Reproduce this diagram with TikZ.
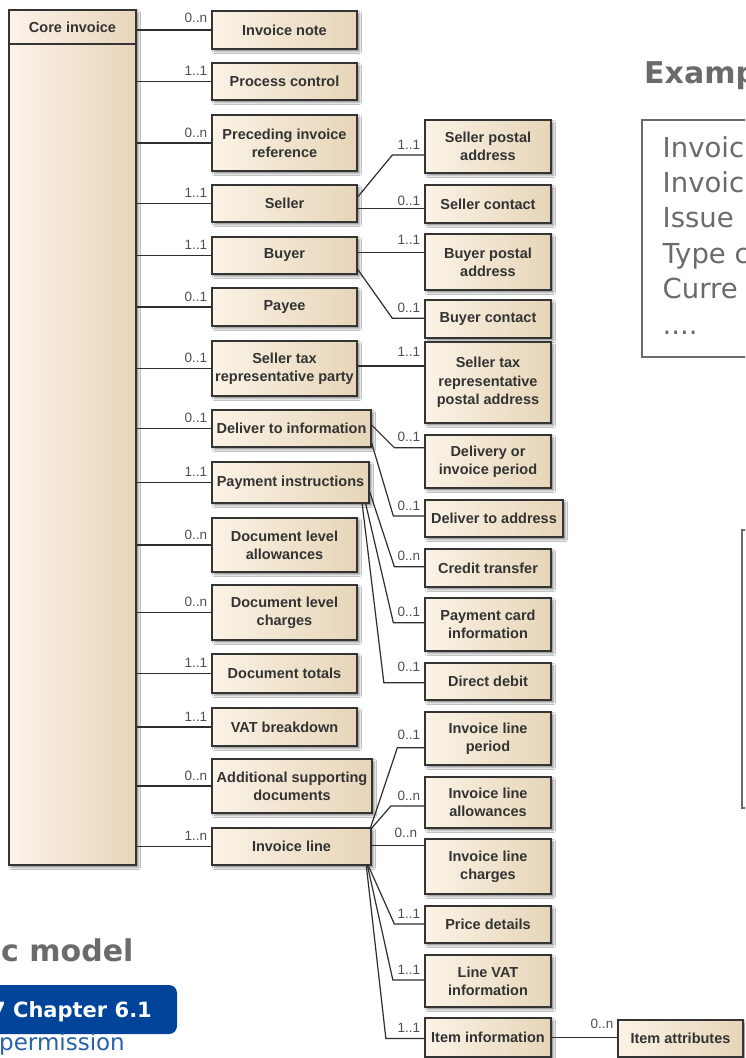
\documentclass[tikz,border=0pt]{standalone}
\usepackage{fontspec}
\setmainfont{Liberation Sans}
\newfontfamily\slidefont{DejaVu Sans}
\usetikzlibrary{calc,shadows.blur}

\definecolor{boxlight}{HTML}{FBF3E6}
\definecolor{boxdark}{HTML}{E6D5B8}
\definecolor{corelight}{HTML}{FDF2EA}
\definecolor{coredark}{HTML}{E8D6B9}
\definecolor{edge}{HTML}{343434}
\definecolor{wire}{HTML}{2E2E2E}
\definecolor{labelgray}{HTML}{505050}
\definecolor{boxtext}{HTML}{333333}
\definecolor{slidegray}{HTML}{6B6B6B}
\definecolor{chapterblue}{HTML}{00449A}
\definecolor{linkblue}{HTML}{2662AA}

\tikzset{
  cls/.style={draw=edge, line width=1.3pt, left color=boxlight, right color=boxdark,
    inner sep=0pt, align=center, text=boxtext,
    font=\bfseries\fontsize{14.5}{18.3}\selectfont,
    blur shadow={shadow xshift=2.5pt, shadow yshift=-2.5pt, shadow blur radius=2pt, shadow opacity=45}},
  conn/.style={draw=wire, line width=1.2pt},
  mult/.style={anchor=base east, xshift=-3.5pt, yshift=6pt, inner sep=0pt,
    font=\fontsize{13.5}{14}\selectfont, text=labelgray},
  slidetext/.style={anchor=base west, inner sep=0pt, text=slidegray},
}

% class box given by its corners: name, x1, y1, x2, y2, text
\newcommand{\cbox}[6]{%
  \node[cls, minimum width={#4pt-#2pt}, minimum height={#5pt-#3pt}] (#1)
    at ({(#2+#4)/2},{(#3+#5)/2}) {#6};}

\begin{document}
\begin{tikzpicture}[x=1pt,y=-1pt]
\useasboundingbox (0,0) rectangle (745,1058);
\fill[white] (0,0) rectangle (745,1058);
\clip (0,0) rectangle (745,1058);

% ---- root class ----
\node[cls, left color=corelight, right color=coredark, minimum width=127pt, minimum height=855pt]
  (core) at (72.5,437.5) {};
\draw[edge, line width=1.3pt] (core.west |- 0,44) -- (core.east |- 0,44);
\node[inner sep=0pt, text=boxtext, font=\bfseries\fontsize{14.5}{18.3}\selectfont]
  (coretitle) at (72.5,27.5) {Core invoice};

% ---- first level ----
\cbox{note}{212}{11}{357}{49}{Invoice note}
\cbox{proc}{212}{63}{357}{100}{Process control}
\cbox{prec}{212}{115}{357}{171}{Preceding invoice\\reference}
\cbox{seller}{212}{185}{357}{222}{Seller}
\cbox{buyer}{212}{237}{357}{274}{Buyer}
\cbox{payee}{212}{288}{357}{326}{Payee}
\cbox{taxrep}{212}{341}{357}{396}{Seller tax\\representative party}
\cbox{delinfo}{212}{410}{371}{447}{Deliver to information}
\cbox{payinst}{212}{462}{369}{503}{Payment instructions}
\cbox{allow}{212}{518}{357}{572}{Document level\\allowances}
\cbox{charge}{212}{585}{357}{640}{Document level\\charges}
\cbox{totals}{212}{654}{357}{693}{Document totals}
\cbox{vat}{212}{708}{357}{746}{VAT breakdown}
\cbox{addsup}{212}{759}{372}{813}{Additional supporting\\documents}
\cbox{line}{212}{828}{371}{865}{Invoice line}

% ---- second level ----
\cbox{spa}{425}{120}{551}{173}{Seller postal\\address}
\cbox{sc}{425}{185}{551}{223}{Seller contact}
\cbox{bpa}{425}{234}{551}{290}{Buyer postal\\address}
\cbox{bc}{425}{300}{551}{338}{Buyer contact}
\cbox{trpa}{425}{342}{551}{423}{Seller tax\\representative\\postal address}
\cbox{dip}{425}{435}{551}{488}{Delivery or\\invoice period}
\cbox{dta}{425}{500}{563}{537}{Deliver to address}
\cbox{ct}{425}{549}{551}{587}{Credit transfer}
\cbox{pci}{425}{598}{551}{651}{Payment card\\information}
\cbox{dd}{425}{663}{551}{700}{Direct debit}
\cbox{ilp}{425}{712}{551}{765}{Invoice line\\period}
\cbox{ila}{425}{777}{551}{828}{Invoice line\\allowances}
\cbox{ilc}{425}{839}{551}{894}{Invoice line\\charges}
\cbox{pd}{425}{906}{551}{943}{Price details}
\cbox{lvat}{425}{955}{551}{1007}{Line VAT\\information}
\cbox{item}{425}{1018}{551}{1057}{Item information}
\cbox{attr}{618}{1020}{743}{1057}{Item attributes}

% ---- associations from the root ----
\draw[conn] (core.east |- note)    -- (note.west)    node[mult, yshift=2pt]{0..n};
\draw[conn] (core.east |- proc)    -- (proc.west)    node[mult]{1..1};
\draw[conn] (core.east |- prec)    -- (prec.west)    node[mult]{0..n};
\draw[conn] (core.east |- seller)  -- (seller.west)  node[mult]{1..1};
\draw[conn] (core.east |- buyer)   -- (buyer.west)   node[mult]{1..1};
\draw[conn] (core.east |- payee)   -- (payee.west)   node[mult]{0..1};
\draw[conn] (core.east |- taxrep)  -- (taxrep.west)  node[mult]{0..1};
\draw[conn] (core.east |- delinfo) -- (delinfo.west) node[mult]{0..1};
\draw[conn] (core.east |- payinst) -- (payinst.west) node[mult]{1..1};
\draw[conn] (core.east |- allow)   -- (allow.west)   node[mult]{0..n};
\draw[conn] (core.east |- charge)  -- (charge.west)  node[mult]{0..n};
\draw[conn] (core.east |- totals)  -- (totals.west)  node[mult]{1..1};
\draw[conn] (core.east |- vat)     -- (vat.west)     node[mult]{1..1};
\draw[conn] (core.east |- addsup)  -- (addsup.west)  node[mult]{0..n};
\draw[conn] (core.east |- line)    -- (line.west)    node[mult]{1..n};

% ---- Seller / Buyer ----
\draw[conn] ($(seller.east)+(0,-6.5)$) -- ($(spa.west)+(-32,8.5)$) -- ($(spa.west)+(0,8.5)$) node[mult]{1..1};
\draw[conn] ($(seller.east)+(0,4.8)$) -- ($(sc.west)+(0,4.3)$) node[mult, yshift=-3pt]{0..1};
\draw[conn] ($(buyer.east)+(0,-2.8)$) -- ($(bpa.west)+(0,-9.3)$) node[mult, yshift=2pt]{1..1};
\draw[conn] ($(buyer.east)+(0,13.8)$) -- ($(bc.west)+(-32,-0.7)$) -- ($(bc.west)+(0,-0.7)$) node[mult]{0..1};
\draw[conn] ($(taxrep.east)+(0,-2.5)$) -- ($(trpa.west)+(0,-16.5)$) node[mult, yshift=4pt]{1..1};

% ---- delivery ----
\draw[conn] ($(delinfo.east)+(0,-3.5)$) -- ($(dip.west)+(-30,-13.8)$) -- ($(dip.west)+(0,-13.8)$) node[mult]{0..1};
\draw[conn] ($(delinfo.east)+(0,14.5)$) -- ($(dta.west)+(-31,-2.5)$) -- ($(dta.west)+(0,-2.5)$) node[mult]{0..1};

% ---- payment ----
\draw[conn] ($(payinst.east)+(0,9.2)$) -- ($(ct.west)+(-30,-1.3)$) -- ($(ct.west)+(0,-1.3)$) node[mult]{0..n};
\draw[conn] ($(payinst.south east)+(-4,0)$) -- ($(pci.west)+(-31,-1.8)$) -- ($(pci.west)+(0,-1.8)$) node[mult]{0..1};
\draw[conn] ($(payinst.south east)+(-7.5,0)$) -- ($(dd.west)+(-40.5,1.2)$) -- ($(dd.west)+(0,1.2)$) node[mult, yshift=5pt]{0..1};

% ---- invoice line ----
\draw[conn] ($(line.north east)+(-1,0)$) -- ($(ilp.west)+(-27,9.2)$) -- ($(ilp.west)+(0,9.2)$) node[mult, yshift=2pt]{0..1};
\draw[conn] ($(line.north east)+(-1,2)$) -- ($(ila.west)+(-33.5,3.5)$) -- ($(ila.west)+(0,3.5)$) node[mult]{0..n};
\draw[conn] ($(line.east)+(0,-0.8)$) -- ($(ilc.west)+(0,-20.8)$) node[mult, xshift=-3pt, yshift=2pt]{0..n};
\draw[conn] ($(line.south east)+(-4,-1.5)$) -- ($(pd.west)+(-30,-0.5)$) -- ($(pd.west)+(0,-0.5)$) node[mult]{1..1};
\draw[conn] ($(line.south east)+(-4.5,-1.5)$) -- ($(lvat.west)+(-31.5,-1)$) -- ($(lvat.west)+(0,-1)$) node[mult]{1..1};
\draw[conn] ($(line.south east)+(-5.5,-1.5)$) -- ($(item.west)+(-38.5,1)$) -- ($(item.west)+(0,1)$) node[mult]{1..1};
\draw[conn] (item.east) -- (attr.west |- item.east) node[mult, yshift=3pt]{0..n};

% ---- slide elements around the diagram ----
\node[slidetext, font=\slidefont\bfseries\fontsize{30}{34}\selectfont] (extitle) at (644,83) {Examp};
\draw[slidegray, line width=2pt] (641.5,119.5) rectangle (770,356.5);
\begin{scope}[every node/.style={slidetext, font=\slidefont\fontsize{27.5}{34}\selectfont}]
  \node (ex1) at (662.5,157) {Invoic};
  \node (ex2) at (662.5,192) {Invoic};
  \node (ex3) at (662.5,227.5) {Issue};
  \node (ex4) at (662.5,263) {Type c};
  \node (ex5) at (662.5,298) {Curre};
  \node (ex6) at (662.5,334) {....};
\end{scope}
\draw[slidegray, line width=2pt] (741.7,530) rectangle (770,808.3);

\node[slidetext, font=\slidefont\bfseries\fontsize{30}{34}\selectfont] (modeltitle) at (1,961) {c model};
\fill[chapterblue, rounded corners=8pt] (-20,985) rectangle (177,1034);
\node[anchor=base west, inner sep=0pt, text=white, font=\slidefont\bfseries\fontsize{21}{24}\selectfont]
  (chapter) at (-9,1017) {7 Chapter 6.1};
\node[anchor=base west, inner sep=0pt, text=linkblue, font=\slidefont\fontsize{23}{26}\selectfont]
  (perm) at (-1,1050.5) {permission};
\end{tikzpicture}
\end{document}
